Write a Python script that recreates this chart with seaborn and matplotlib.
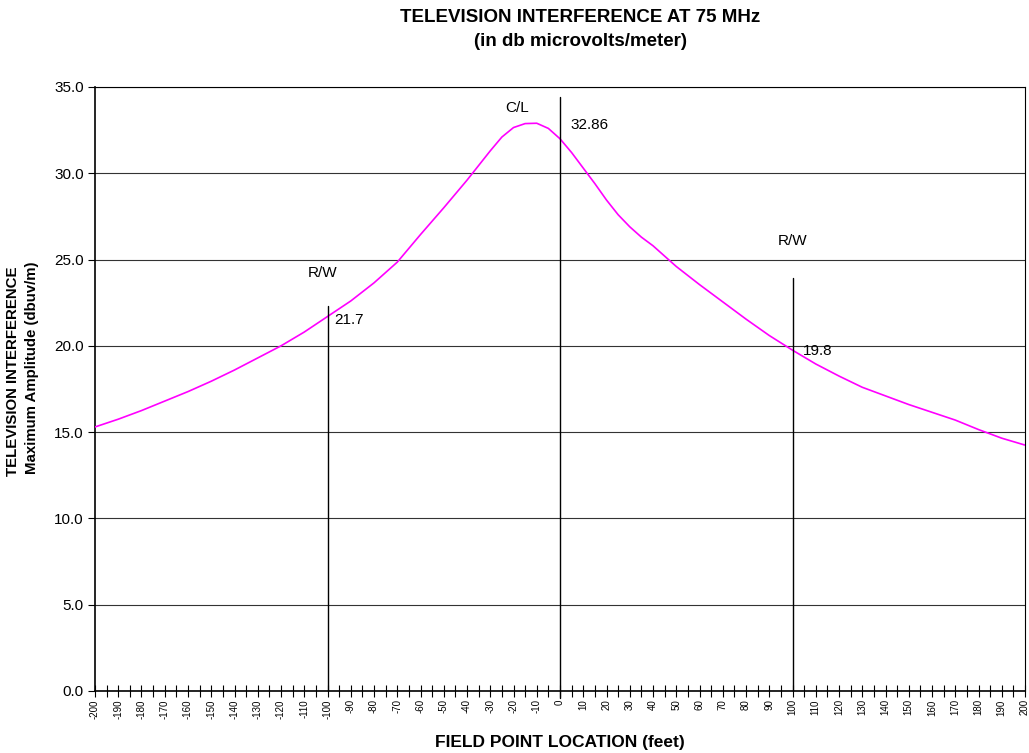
import numpy as np
import pandas as pd
import matplotlib
matplotlib.use("Agg")
import matplotlib.pyplot as plt
import seaborn as sns

# Data
field_point = [-200, -190, -180, -170, -160, -150, -140, -130, -120, -110,
               -100, -90, -80, -70, -60, -50, -45, -40, -35, -30, -25, -20,
               -15, -10, -5, 0, 5, 10, 15, 20, 25, 30, 35, 40, 50, 60, 70,
               80, 90, 100, 110, 120, 130, 140, 150, 160, 170, 180, 190, 200]
amplitude = [15.3, 15.75, 16.25, 16.8, 17.35, 17.95, 18.6, 19.3, 20.0, 20.8,
             21.7, 22.6, 23.65, 24.85, 26.45, 28.0, 28.8, 29.6, 30.45, 31.3, 32.1, 32.65,
             32.88, 32.9, 32.6, 32.0, 31.2, 30.3, 29.4, 28.45, 27.6, 26.9, 26.3, 25.8, 24.6, 23.55, 22.55,
             21.55, 20.6, 19.75, 18.95, 18.25, 17.6, 17.1, 16.6, 16.15, 15.7, 15.15, 14.65,
             14.25]
marker_x = [-100, 0, 100]
marker_top = [22.3, 34.4, 23.95]
marker_bottom = [0.0, -0.4, 0.0]
marker_names = ["R/W", "C/L", "R/W"]
marker_values = ["21.7", "32.86", "19.8"]
x_ticks = list(range(-200, 201, 10))
x_tick_labels = [str(v) for v in x_ticks]
y_ticks = [0, 5, 10, 15, 20, 25, 30, 35]
y_tick_labels = ["0.0", "5.0", "10.0", "15.0", "20.0", "25.0", "30.0", "35.0"]

sns.set_theme(style="white")
plt.rcParams['font.family'] = ['Liberation Sans', 'DejaVu Sans']
plt.rcParams['text.color'] = 'black'
plt.rcParams['xtick.color'] = 'black'
plt.rcParams['ytick.color'] = 'black'

fig = plt.figure(figsize=(10.29, 7.53), dpi=100)
ax = fig.add_axes([95/1029, 1 - 691/753, 930/1029, 604/753])

df = pd.DataFrame({"x": field_point, "y": amplitude})
sns.lineplot(data=df, x="x", y="y", ax=ax, color="#ff00ff", linewidth=1.2, zorder=3)

for xv, yt, yb in zip(marker_x, marker_top, marker_bottom):
    ax.plot([xv, xv], [yb, yt], color="black", linewidth=1.0, zorder=4, clip_on=False)

fs = 11
ax.text(-102, 24.2, marker_names[0], ha="center", va="center", fontsize=fs)
ax.text(-97, 21.5, marker_values[0], ha="left", va="center", fontsize=fs)
ax.text(-18.5, 33.8, marker_names[1], ha="center", va="center", fontsize=fs)
ax.text(4.5, 32.8, marker_values[1], ha="left", va="center", fontsize=fs)
ax.text(100, 26.1, marker_names[2], ha="center", va="center", fontsize=fs)
ax.text(104.5, 19.7, marker_values[2], ha="left", va="center", fontsize=fs)

ax.set_xlim(-200, 200)
ax.set_ylim(0, 35)
ax.set_yticks(y_ticks)
ax.set_yticklabels(y_tick_labels, fontsize=11)
ax.set_xticks(x_ticks)
ax.set_xticklabels(x_tick_labels, rotation=90, fontsize=7)
ax.set_xticks(np.arange(-195, 200, 10), minor=True)
ax.tick_params(axis="x", which="both", direction="inout", length=8, width=0.8,
               color="black", bottom=True, pad=2)
ax.tick_params(axis="y", which="major", direction="out", length=5, width=0.8,
               color="black", left=True, pad=3)
ax.yaxis.grid(True, color="#333333", linewidth=0.8)
ax.xaxis.grid(False)
for s in ax.spines.values():
    s.set_visible(True)
    s.set_color("black")
    s.set_linewidth(0.8)
ax.spines["left"].set_linewidth(1.2)
ax.spines["bottom"].set_linewidth(1.2)

ax.set_xlabel("")
ax.set_ylabel("")

fig.text(580/1029, 1 - 18/753, "TELEVISION INTERFERENCE AT 75 MHz", ha="center", va="center",
         fontsize=13.5, fontweight="bold")
fig.text(580/1029, 1 - 41/753, "(in db microvolts/meter)", ha="center", va="center",
         fontsize=13.5, fontweight="bold")
fig.text(560/1029, 1 - 742/753, "FIELD POINT LOCATION (feet)", ha="center", va="center",
         fontsize=12.5, fontweight="bold")
fig.text(13/1029, 1 - 371/753, "TELEVISION INTERFERENCE", ha="center", va="center",
         rotation=90, fontsize=10.8, fontweight="bold")
fig.text(32/1029, 1 - 368/753, "Maximum Amplitude (dbuv/m)", ha="center", va="center",
         rotation=90, fontsize=10.8, fontweight="bold")

fig.savefig("out.png", dpi=100)
